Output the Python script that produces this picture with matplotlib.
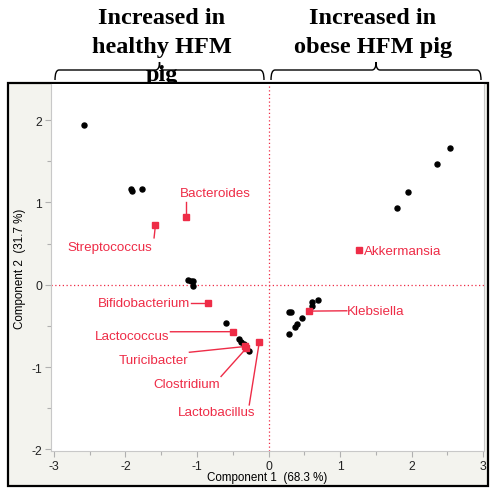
import matplotlib
matplotlib.use("Agg")
import matplotlib.pyplot as plt
from matplotlib.patches import Rectangle, PathPatch
from matplotlib.path import Path

plt.rcParams["axes.unicode_minus"] = False

# ---------------- data ----------------
score_x = [-2.58, -1.92, -1.905, -1.77, -1.12, -1.08, -1.05, -1.05,
           -0.59, -0.42, -0.385, -0.34, -0.27,
           0.28, 0.29, 0.32, 0.37, 0.40, 0.47, 0.605, 0.60, 0.69,
           1.80, 1.95, 2.36, 2.54]
score_y = [1.94, 1.16, 1.145, 1.17, 0.06, 0.05, 0.04, -0.01,
           -0.465, -0.66, -0.69, -0.72, -0.81,
           -0.595, -0.33, -0.33, -0.51, -0.48, -0.40, -0.26, -0.21, -0.18,
           0.93, 1.13, 1.47, 1.66]

genera = ["Streptococcus", "Bacteroides", "Akkermansia", "Bifidobacterium",
          "Lactococcus", "Turicibacter", "Clostridium", "Lactobacillus", "Klebsiella"]
load_x = [-1.58, -1.16, 1.27, -0.84, -0.50, -0.33, -0.31, -0.13, 0.57]
load_y = [0.73, 0.82, 0.42, -0.22, -0.57, -0.75, -0.77, -0.70, -0.32]

# label text anchors (x, y, ha) and line start points
lab_x = [-2.215, -0.74, 1.33, -1.09, -1.385, -1.12, -0.674, -0.722, 1.093]
lab_y = [0.46, 1.11, 0.41, -0.22, -0.62, -0.92, -1.20, -1.54, -0.316]
lab_ha = ["center", "center", "left", "right", "right", "right", "right", "center", "left"]
line_x = [-1.60, -1.16, None, -1.078, -1.371, -1.106, -0.664, -0.27, 1.093]
line_y = [0.57, 1.01, None, -0.22, -0.571, -0.82, -1.114, -1.46, -0.316]

xlabel = "Component 1  (68.3 %)"
ylabel = "Component 2  (31.7 %)"
left_head = ["Increased in", "healthy HFM", "pig"]
right_head = ["Increased in", "obese HFM pig"]

RED = "#ee2c47"
W, H = 490, 489

fig = plt.figure(figsize=(W / 100, H / 100), dpi=100)
fig.patch.set_facecolor("white")

def fx(px):
    return px / W

def fy(py):
    return 1 - py / H

# header text (drawn under frame)
for i, t in enumerate(left_head):
    fig.text(fx(162), fy(24 + 28.5 * i), t, ha="center", va="baseline",
             family="Liberation Serif", weight="bold", fontsize=17.5, zorder=1)
for i, t in enumerate(right_head):
    fig.text(fx(373), fy(24 + 28.5 * i), t, ha="center", va="baseline",
             family="Liberation Serif", weight="bold", fontsize=17.5, zorder=1)

# braces
def brace(x0, x1, ytop=71, yend=81, ycusp=63):
    xm = (x0 + x1) / 2
    pts = [(x0, yend), (x0, ytop), (x0 + 4, ytop),
           (xm - 4, ytop), (xm, ytop), (xm, ycusp),
           (xm, ytop), (xm + 4, ytop),
           (x1 - 4, ytop), (x1, ytop), (x1, yend)]
    codes = [Path.MOVETO, Path.CURVE3, Path.CURVE3,
             Path.LINETO, Path.CURVE3, Path.CURVE3,
             Path.CURVE3, Path.CURVE3,
             Path.LINETO, Path.CURVE3, Path.CURVE3]
    verts = [(fx(a), fy(b)) for a, b in pts]
    fig.add_artist(PathPatch(Path(verts, codes), fill=False, lw=1.0,
                             edgecolor="black", transform=fig.transFigure, zorder=1))

brace(55, 264)
brace(271, 481)

# outer frame
fig.add_artist(Rectangle((fx(8), fy(487)), fx(480), 403 / H, transform=fig.transFigure,
                         facecolor="#f3f3ee", edgecolor="black", lw=1.6, zorder=2))

ax = fig.add_axes([fx(51), fy(452), fx(484 - 51), (452 - 85) / H], zorder=3)
ax.set_facecolor("white")
ax.set_xlim(-3.04, 3.01)
ax.set_ylim(-2.02, 2.44)

for s in ax.spines.values():
    s.set_color("#c8c8c8")
    s.set_linewidth(0.8)
ax.spines["top"].set_visible(False)

ax.set_xticks([-3, -2, -1, 0, 1, 2, 3])
ax.set_yticks([-2, -1, 0, 1, 2])
ax.set_xticks([-2.5, -1.5, -0.5, 0.5, 1.5, 2.5], minor=True)
ax.set_yticks([-1.5, -0.5, 0.5, 1.5], minor=True)
ax.tick_params(which="both", color="#b0b0b0", labelsize=8.8, labelcolor="#222222")
ax.tick_params(which="major", length=4, width=0.8, pad=2.5)
ax.tick_params(which="minor", length=3, width=0.8)

lab_font = ["Liberation Sans", "DejaVu Sans"]
ax.set_xlabel(xlabel, fontsize=8.4, family=lab_font, va="center")
ax.set_ylabel(ylabel, fontsize=8.4, family=lab_font, va="center")
ax.xaxis.set_label_coords(0.5, (452 - 478) / 367)
ax.yaxis.set_label_coords((20 - 51) / 433, 0.5)
for lbl in ax.get_xticklabels() + ax.get_yticklabels():
    lbl.set_family(lab_font)

ax.axhline(0, color=RED, ls=(0, (1, 2)), lw=0.9, zorder=1)
ax.axvline(0, color=RED, ls=(0, (1, 2)), lw=0.9, zorder=1)

ax.plot(score_x, score_y, "o", color="black", ms=3.6, zorder=3)
ax.plot(load_x, load_y, "s", color=RED, ms=4.5, zorder=4)

for i, g in enumerate(genera):
    ax.text(lab_x[i], lab_y[i], g, ha=lab_ha[i], va="center", color=RED,
            fontsize=9.6, family=lab_font, zorder=5)
    if line_x[i] is not None:
        ax.plot([line_x[i], load_x[i]], [line_y[i], load_y[i]], color=RED, lw=1.0, zorder=4)

fig.savefig("out.png", dpi=100)
